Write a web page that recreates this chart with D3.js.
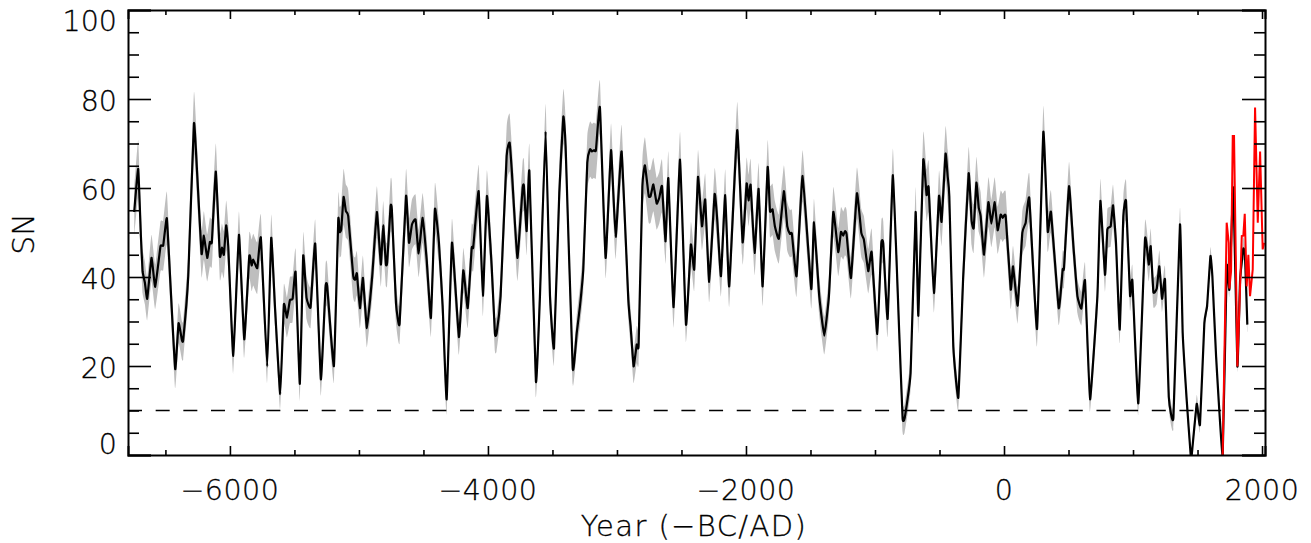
<!DOCTYPE html>
<html><head><meta charset="utf-8">
<script src="https://d3js.org/d3.v7.min.js"></script>
<style>
html,body{margin:0;padding:0;background:#fff}
svg{display:block}
text{font-family:"DejaVu Sans",sans-serif;font-weight:200;fill:#000;stroke:#000;stroke-width:.3px}
</style></head><body>
<svg id="c" width="1311" height="543"></svg>
<script>
const years=[-6742,-6711,-6690,-6677,-6659,-6641,-6608,-6579,-6538,-6517,
-6489,-6460,-6424,-6398,-6372,-6362,-6323,-6279,-6253,-6220,
-6202,-6176,-6155,-6140,-6109,-6078,-6062,-6047,-6029,-6013,
-5974,-5930,-5889,-5850,-5832,-5819,-5788,-5760,-5711,-5680,
-5651,-5610,-5582,-5558,-5535,-5514,-5491,-5458,-5432,-5406,
-5375,-5339,-5295,-5259,-5246,-5194,-5160,-5150,-5137,-5119,
-5101,-5083,-5044,-5029,-5016,-4992,-4969,-4938,-4897,-4861,
-4830,-4812,-4791,-4781,-4755,-4745,-4713,-4685,-4635,-4612,
-4589,-4561,-4537,-4506,-4475,-4442,-4411,-4380,-4351,-4320,
-4279,-4225,-4191,-4157,-4126,-4114,-4072,-4039,-4008,-3971,
-3946,-3933,-3902,-3855,-3832,-3814,-3772,-3731,-3721,-3700,
-3679,-3628,-3597,-3553,-3519,-3488,-3447,-3416,-3398,-3343,
-3312,-3287,-3261,-3230,-3209,-3194,-3178,-3163,-3132,-3088,
-3046,-3010,-2964,-2912,-2894,-2871,-2847,-2832,-2803,-2783,
-2754,-2739,-2718,-2692,-2672,-2651,-2623,-2602,-2561,-2511,
-2465,-2427,-2401,-2372,-2341,-2316,-2285,-2243,-2223,-2194,
-2161,-2130,-2068,-2026,-1995,-1980,-1964,-1933,-1902,-1871,
-1832,-1814,-1794,-1776,-1745,-1706,-1680,-1659,-1644,-1608,
-1561,-1494,-1473,-1432,-1393,-1357,-1323,-1285,-1264,-1246,
-1233,-1220,-1186,-1140,-1106,-1086,-1052,-1026,-982,-951,
-936,-902,-861,-812,-786,-770,-724,-685,-664,-626,
-600,-584,-543,-504,-484,-453,-437,-424,-393,-354,
-316,-274,-251,-235,-214,-196,-181,-155,-121,-98,
-72,-49,-26,-10,13,52,70,106,142,168,
196,256,305,339,364,424,455,465,504,538,
569,600,628,667,724,747,783,801,827,845,
868,897,925,946,977,995,1041,1093,1122,1137,
1158,1184,1204,1225,1248,1277,1313,1364,1385,1416,
1447,1455,1494,1519,1553,1574,1600,1615,1644,1695,
1726,1747,1778,1809,1830,1855,1868,1886];
const sn=[54.6,64.3,49.2,41.3,38.7,35.1,44.3,37.8,46.9,47.1,
53.2,37.9,19.3,29.6,25.8,25.9,40.2,74.5,62.7,45.2,
49.3,44.3,47.9,47.9,63.7,44.7,46.6,45,51.6,46.9,
22.3,49.5,26,44.7,42.6,43.9,42,48.8,19.9,48.8,
33.4,13.7,33.8,30.9,34.8,35.1,41.1,16,44.8,35.3,
33.2,47.5,17,37.7,37.9,20,52.9,50.1,50.7,58,
54.8,53.7,40.2,39.4,40.8,33,39.8,28.5,40.2,54.6,
42.8,51.6,42.9,43.3,55.8,55.2,34.2,29.4,58.2,47.7,
51.8,52.9,45.3,53.3,43.9,30.8,55.3,47.7,33.4,12.5,
47.7,26.5,41.5,33,46.5,46.7,59.3,35.8,58.2,42.4,
27.3,27.3,35.7,67.2,70.2,63.4,44.3,60.1,60.4,50.3,
63.8,16.5,35.7,72.7,35.7,24,58.9,76,69.4,19.5,
27.4,33.4,41.7,65.7,68.7,68.2,68.5,68.5,78.1,44.3,
68.5,49,68.2,34.9,28.9,19.9,24.8,24.8,60.4,65.1,
58.2,58.2,60.8,56.5,57.8,60.4,48,62.2,33.2,66.4,
29.3,47.3,41.7,62.5,51.4,57.4,38.9,58.6,52.9,40.2,
58.4,37.9,73,47.8,61,57.2,60.7,45.4,59.8,37.9,
64.7,54.8,55.2,51.4,48.6,59.3,51.4,49.7,49.7,40.2,
62.7,37.3,52.3,35.7,26.8,35.7,54.6,45.6,50.1,49.3,
50.3,49.6,39.8,58.8,49.9,48.4,41.3,45.6,27.2,47.5,
47.5,30.6,62.9,27.4,8.3,8.3,18.4,54.6,31.3,66.3,
58.4,60.1,36.4,58.2,52.4,67.7,62.7,58.2,24.4,12.9,
40.2,63.3,52.6,51,61.2,55.6,53.7,45,56.8,52,
56.8,50.5,54,53.3,53.7,37.2,42.4,33.6,49.9,52.2,
57.7,28.3,72.6,50.2,54.6,33,41.7,42,60.4,46.9,
35.7,32.9,39.2,12.5,35.7,57.1,40.5,50.7,51.4,56.1,
47.7,28.2,53.7,57.1,35.8,39.2,11.6,48.6,42.8,46.9,
36.6,37.4,42.4,35.1,39.4,13.1,8.4,51.8,27.4,12.4,
0,0,11.5,6.8,29.7,33.4,44.7,40.2,22.1,0,
42.4,37.2,60.1,19.9,39.4,46.4,44.7,29.3];
const snErr=[5.5,6.5,5.5,5,4.8,4.8,5.2,5,5.6,5.6,
6,5,4.3,4.5,4.3,4.3,5,7,6,5.3,
5.5,5.3,5.5,5.5,6.3,5.3,5.4,5.3,5.6,5.3,
4,5.2,4.2,5.2,5.8,5.8,5.8,5.2,3.8,5.2,
4.5,3.5,4.5,4.5,5.2,5.2,5.2,3.8,5.2,4.8,
4.6,5.4,3.7,5,5,3.8,5.7,5.7,5.7,6.3,
6,5.8,5,5,5,4.5,5,4.3,5,5.8,
5,5.5,5,5,6,6,4.5,4.3,6,5.5,
5.6,5.6,5.3,5.6,5.2,4.2,5.8,5,4.3,3.4,
5.4,4,5,4.5,5.3,5.3,5.9,4.6,5.8,5,
4,4,4.4,6.5,6.5,6,5.2,5.9,5.9,5.4,
6,3.5,4.5,6.2,4.4,3.8,5.7,6.2,6,3.6,
4,4.4,5,6,6.2,6.2,6.2,6.2,6,4.6,
6,5,6,4.4,4.2,3.8,4.2,4.2,6,6.3,
6,6,6,5.8,5.8,6,5,6,4.6,6.2,
4,5,4.8,6,5.4,5.8,4.6,5.8,5.5,4.6,
5.8,4.6,6.3,5,5.8,5.8,5.8,5,5.8,4.4,
6,5.8,5.8,5.6,5.5,5.8,5.5,5.3,5.3,4.6,
5.8,4.4,5.3,4.4,4.2,4.4,5.6,5.4,5.6,5.4,
5.4,5.4,4.6,5.8,5.4,5.3,5,5.2,4,5,
5,4,6,3.9,3.2,3.2,3.6,5.6,4,6.2,
5.8,5.8,4.4,5.6,5.4,6.2,6,5.6,3.8,3.2,
4.8,5.9,5.5,5.5,5.8,5.5,5.3,5.2,5.6,5.3,
5.6,5.3,5.4,5.4,5.4,4.4,4.6,4.1,5,5.2,
5.5,3.9,5.8,4.5,4.8,3.8,4.2,4.2,5.5,4.2,
3.8,3.8,4,2.8,3.8,5,3.8,4.5,4.5,4.7,
4,3,4.5,4.6,3.4,3.4,2.6,4,3.8,4,
3.4,3.4,3.6,3,3,2.5,2.5,3.8,2.4,2,
1.2,1.2,2,1.6,1.6,1.6,2,1.6,1,0.3,
2,1.6,2.4,1.2,1.8,2.6,2.2,1.6];
const redYears=[1695,1726,1742,1747,1760,1773,1783,1809,1843,1855,1866,1881,1894,1907,1928,1946,1967,1985,2005,2016];
const redSn=[0,52.2,47.7,37.4,41.3,71.7,71.7,19.9,49.2,49.3,54.2,37.9,45,35.7,41.7,78.1,52.2,68.2,46.2,47.7];
const refLevel=[10];
const xMajor=[-6000,-4000,-2000,0,2000];
const xMinor=[-6500,-5500,-5000,-4500,-3500,-3000,-2500,-1500,-1000,-500,500,1000,1500];
const yMajor=[0,20,40,60,80,100];
const yMinor=[5,10,15,25,30,35,45,50,55,65,70,75,85,90,95];
const xTitle="Year (\u2212BC/AD)", yTitle="SN";

const L=128,R=1265,T=10,B=455;
const svg=d3.select("#c");
const x=d3.scaleLinear().domain([-6790,2023]).range([L,R]);
const y=d3.scaleLinear().domain([0,100]).range([B,T]);
const rows=years.map((t,i)=>({t,v:sn[i],e:snErr[i]}));
const red=redYears.map((t,i)=>({t,v:redSn[i]}));
const smooth=d3.curveCardinal.tension(0.65);

svg.append("defs").append("clipPath").attr("id","pc").append("rect")
  .attr("x",L).attr("y",T).attr("width",R-L).attr("height",B-T);
const plot=svg.append("g").attr("clip-path","url(#pc)");

plot.append("path").datum(rows).attr("fill","#bebebe")
  .attr("d",d3.area().curve(smooth).x(d=>x(d.t)).y0(d=>y(d.v-d.e)).y1(d=>y(d.v+d.e)));
plot.selectAll("line.ref").data(refLevel).join("line").attr("class","ref")
  .attr("x1",L).attr("x2",R).attr("y1",d=>y(d)).attr("y2",d=>y(d))
  .attr("stroke","#000").attr("stroke-width",1.6).attr("stroke-dasharray","14 13.67");
plot.append("path").datum(rows).attr("fill","none").attr("stroke","#000").attr("stroke-width",2.2)
  .attr("d",d3.line().curve(smooth).x(d=>x(d.t)).y(d=>y(d.v)));
plot.append("path").datum(red).attr("fill","none").attr("stroke","#f00").attr("stroke-width",2)
  .attr("d",d3.line().x(d=>x(d.t)).y(d=>y(d.v)));

function ax(gen,tf,major,minor,lenMaj,lenMin){
  const g=svg.append("g").attr("transform",tf);
  g.call(gen.tickValues(major).tickSize(lenMaj).tickFormat(""));
  g.append("g").call(gen.tickValues(minor).tickSize(lenMin).tickFormat(""));
  g.selectAll("path.domain").filter((d,i)=>i>0).remove();
  g.selectAll("path").attr("stroke","#000").attr("stroke-width",2);
  g.selectAll("line").attr("stroke","#000").attr("stroke-width",1.6);
  return g;
}
ax(d3.axisBottom(x).tickSizeOuter(0),`translate(0,${B})`,xMajor,xMinor,-9,-5);
ax(d3.axisTop(x).tickSizeOuter(0),`translate(0,${T})`,xMajor,xMinor,-9,-5);
ax(d3.axisLeft(y).tickSizeOuter(0),`translate(${L},0)`,yMajor,yMinor,-23,-11);
ax(d3.axisRight(y).tickSizeOuter(0),`translate(${R},0)`,yMajor,yMinor,-23,-11);

const yNudge=v=>v===100?10.5:(v===0?-11:(v===80?2:1.5));
svg.selectAll("text.yl").data(yMajor).join("text").attr("class","yl")
  .attr("x",117).attr("y",d=>y(d)+yNudge(d)).attr("dy","0.36em")
  .attr("text-anchor","end").attr("font-size",28.5).text(d=>d);
svg.selectAll("text.xl").data(xMajor).join("text").attr("class","xl")
  .attr("x",d=>x(d)).attr("y",500)
  .attr("text-anchor","middle").attr("font-size",28.5).attr("letter-spacing",0.5)
  .text(d=>d<0?"\u2212"+Math.abs(d):d);
svg.append("text").attr("x",694).attr("y",536).attr("text-anchor","middle").attr("font-size",29).attr("letter-spacing",1.4).text(xTitle);
svg.append("text").attr("transform","translate(34,234) rotate(-90)").attr("text-anchor","middle").attr("font-size",30).text(yTitle);
</script>
</body></html>
